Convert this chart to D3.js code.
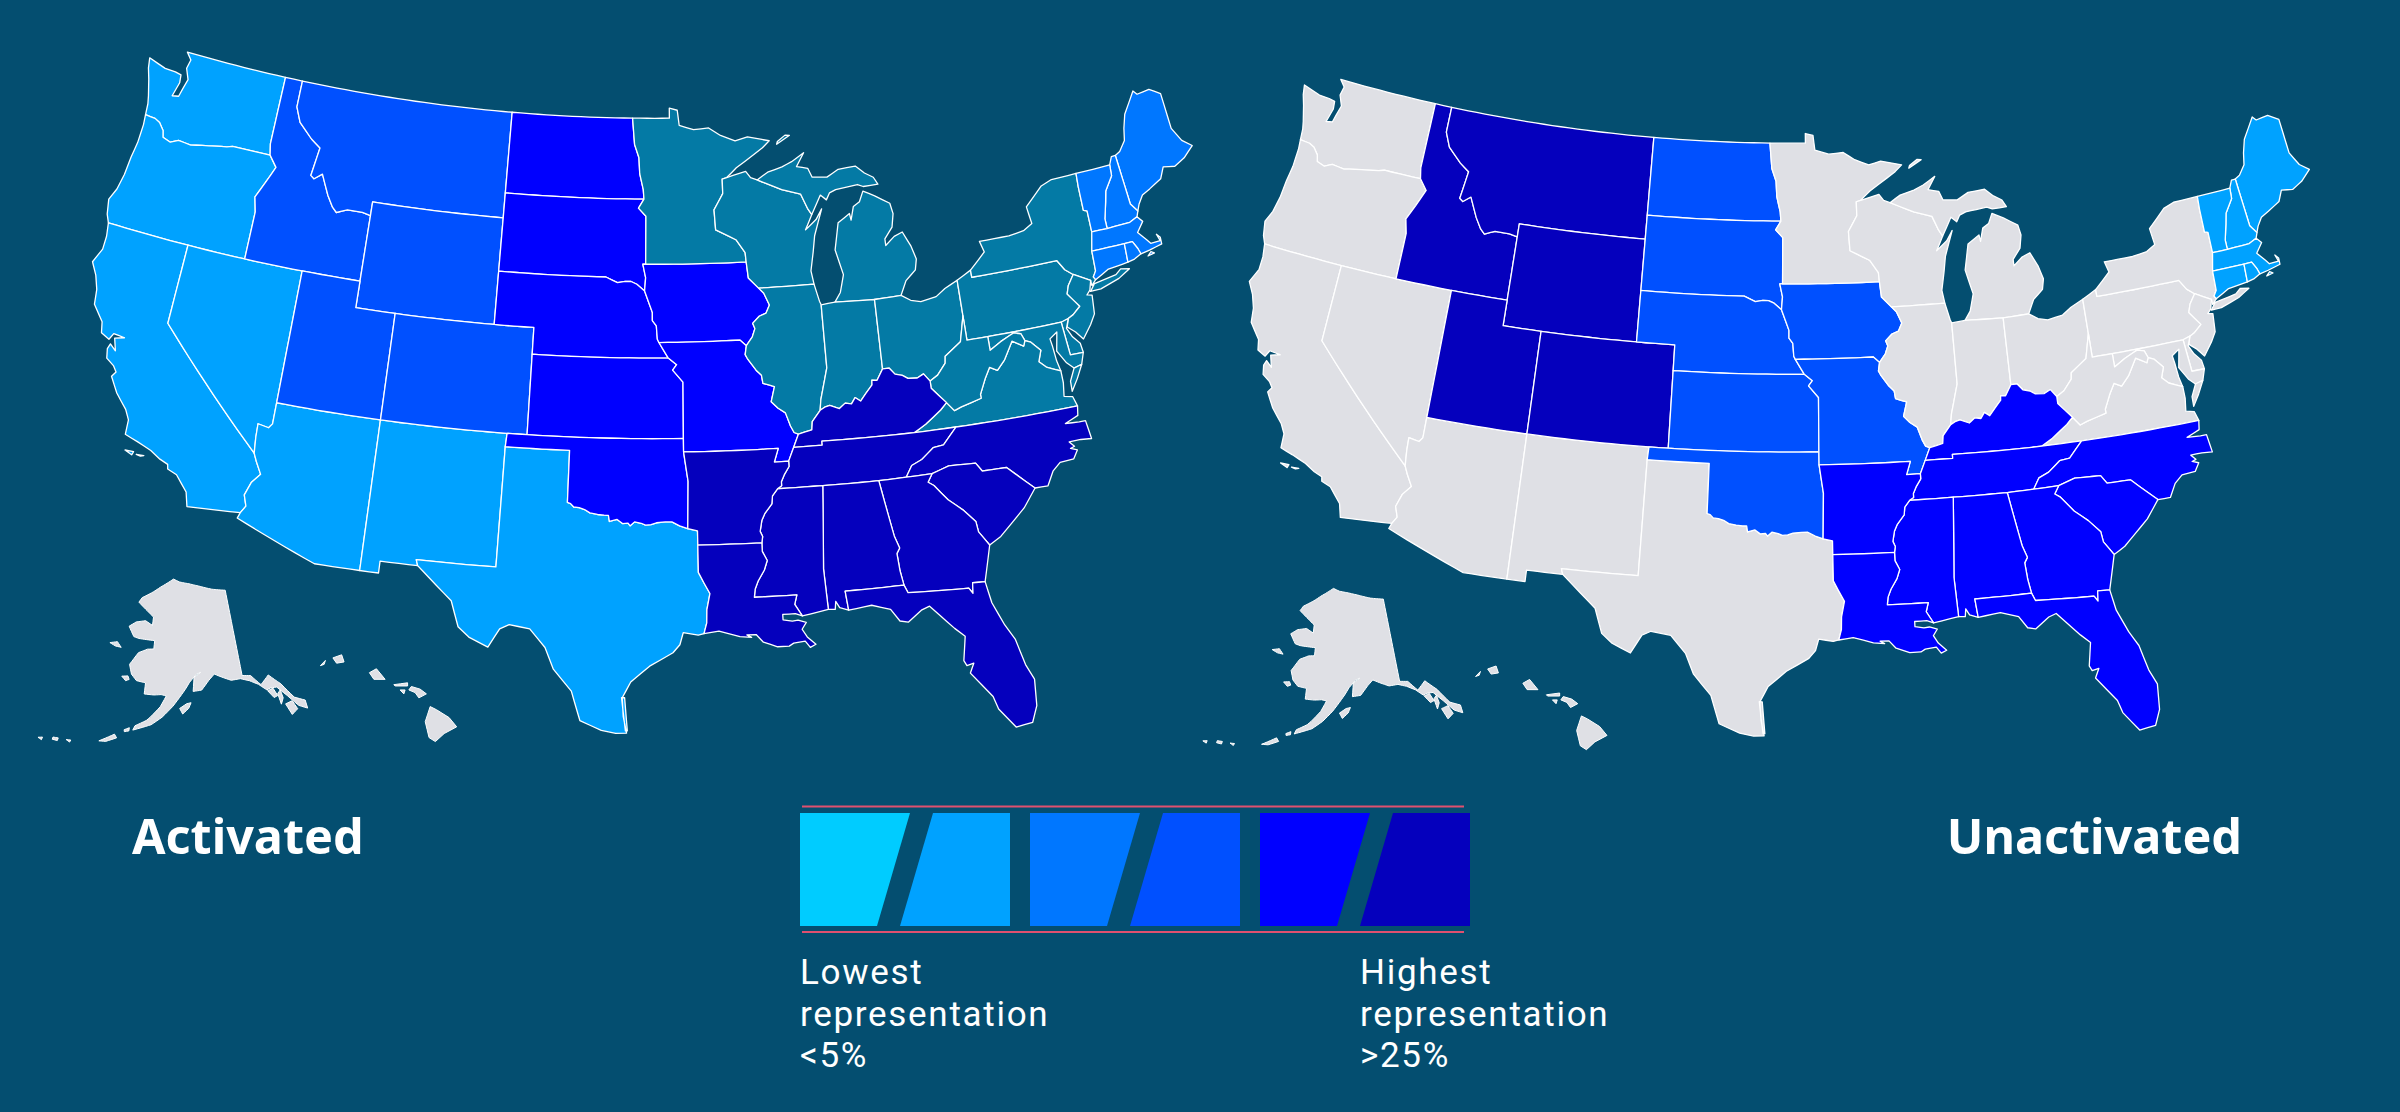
<!doctype html>
<html lang="en">
<head>
<meta charset="utf-8">
<title>Representation by state, activated and unactivated</title>
<script src="https://d3js.org/d3.v7.min.js"></script>
<style>
  html, body { margin: 0; padding: 0; background: #044e70; }
  svg { display: block; }
  text { fill: #fff; font-family: "Noto Sans", Roboto, sans-serif; }
  .title { font-size: 48.5px; font-weight: 700; }
  .note { font-family: Roboto, sans-serif; font-size: 35px; letter-spacing: 1.7px; }
</style>
</head>
<body>
<svg id="chart" width="2400" height="1112"></svg>
<script>
// shared borders, [lon, lat]
const rev = a => a.slice().reverse();

const coastWA = [[-124,46.28],[-124.05,46.7],[-124.15,47],[-124.4,47.6],[-124.6,48],[-124.7,48.38],[-123.7,48.17],[-123.1,48.15],[-122.75,48.1],[-122.7,47.8],[-122.9,47.25],[-122.55,47.3],[-122.45,47.6],[-122.3,48],[-122.55,48.4],[-122.45,48.75],[-122.76,49]];
const waOR = [[-124,46.28],[-123.45,46.25],[-123.15,46.15],[-122.85,45.9],[-122.75,45.65],[-122.3,45.55],[-121.9,45.7],[-121.2,45.65],[-120.6,45.75],[-119.9,45.85],[-119.3,45.93],[-119,46],[-116.92,46]];
const coastOR = [[-124,46.28],[-123.95,45.9],[-123.97,45.2],[-124.08,44.6],[-124.15,43.9],[-124.3,43.3],[-124.55,42.85],[-124.4,42.3],[-124.21,42]];
const snakeOR = [[-116.92,46],[-116.47,45.6],[-116.85,44.95],[-117.22,44.35],[-117.03,43.8],[-117.03,42]];
const idMT = [[-111.05,44.48],[-111.5,44.55],[-112.3,44.55],[-112.85,44.38],[-113.1,44.55],[-113.45,44.95],[-113.95,45.7],[-114.35,45.47],[-114.55,45.57],[-114.35,46.65],[-114.9,46.92],[-115.7,47.45],[-116.05,48],[-116.05,49]];
const coastCA = [[-124.21,42],[-124.1,41.5],[-124.1,41],[-124.4,40.44],[-124.05,40],[-123.8,39.5],[-123.7,38.95],[-123.1,38.4],[-122.98,38],[-122.55,37.85],[-122.4,38.1],[-121.85,38.06],[-122.3,37.95],[-122.1,37.5],[-122.42,37.7],[-122.5,37.5],[-122.4,37.15],[-122,36.95],[-121.8,36.75],[-121.95,36.55],[-121.5,36],[-120.9,35.5],[-120.65,35.15],[-120.62,34.6],[-120,34.45],[-119.3,34.25],[-118.8,34.02],[-118.4,33.9],[-118.35,33.73],[-117.9,33.6],[-117.3,33.05],[-117.12,32.53]];
const caAZ = [[-114.72,32.72],[-114.53,33],[-114.7,33.4],[-114.5,33.9],[-114.15,34.27],[-114.45,34.7],[-114.63,35]];
const nvAZ = [[-114.63,35],[-114.7,35.6],[-114.72,36.1],[-114.2,36.03],[-114.05,36.2],[-114.05,37]];
const redRiver = [[-100,34.56],[-99.85,34.52],[-99.7,34.4],[-99.45,34.38],[-99.2,34.32],[-98.95,34.2],[-98.6,34.15],[-98.3,34.13],[-98.1,34.13],[-98.05,33.9],[-97.7,33.98],[-97.45,33.83],[-97.2,33.85],[-97.1,33.75],[-96.9,33.9],[-96.6,33.85],[-96.4,33.78],[-96.15,33.8],[-95.9,33.87],[-95.5,33.9],[-95.2,33.9],[-94.85,33.75],[-94.48,33.64]];
const txLA = [[-94.04,33.02],[-94.04,32],[-93.8,31.6],[-93.55,31.2],[-93.7,30.6],[-93.72,30.1],[-93.85,29.7]];
const coastTX = [[-93.85,29.7],[-94.1,29.65],[-94.75,29.75],[-94.9,29.3],[-95.2,29],[-96.2,28.5],[-97,27.9],[-97.35,27.3],[-97.3,26.6],[-97.15,25.96]];
const rioGrande = [[-97.15,25.96],[-97.6,25.95],[-98.2,26.05],[-99.1,26.4],[-99.5,27.5],[-100.3,28.3],[-100.7,29.1],[-101.4,29.77],[-102.3,29.88],[-102.7,29.7],[-103.15,28.98],[-104,29.3],[-104.5,29.65],[-104.9,30.6],[-106,31.4],[-106.53,31.78]];
const redNorth = [[-97.23,49],[-97.1,48],[-96.85,47.5],[-96.8,46.9],[-96.6,46.3],[-96.56,45.94]];
const sdMN = [[-96.56,45.94],[-96.85,45.6],[-96.45,45.3],[-96.45,43.5]];
const sdIA = [[-96.45,43.5],[-96.6,43.5],[-96.45,43],[-96.5,42.5]];
const neSD = [[-96.5,42.5],[-96.9,42.75],[-97.2,42.85],[-97.5,42.85],[-97.9,42.8],[-98.5,43],[-104.05,43]];
const neIA = [[-96.5,42.5],[-96.3,42.1],[-96.1,41.7],[-96.1,41.4],[-95.9,41.2],[-95.85,40.7],[-95.77,40.58]];
const neMO = [[-95.77,40.58],[-95.31,40]];
const ksMO = [[-95.31,40],[-94.9,39.75],[-95.1,39.55],[-94.6,39.1],[-94.62,37]];
const mnWI = [[-91.22,43.5],[-91.25,43.85],[-91.7,44.35],[-92.75,44.75],[-92.8,45.5],[-92.3,46.1],[-92.3,46.65]];
const iaWI = [[-91.22,43.5],[-91.15,42.9],[-90.65,42.5]];
const iaIL = [[-90.65,42.5],[-90.4,42.3],[-90.15,41.85],[-90.35,41.55],[-90.7,41.45],[-91.05,41.2],[-90.95,41],[-91.1,40.7],[-91.42,40.38]];
const ilMO = [[-91.42,40.38],[-91.5,40.05],[-91.4,39.9],[-91,39.45],[-90.75,39.25],[-90.7,38.95],[-90.15,38.8],[-90.35,38.25],[-90.05,38],[-89.7,37.8],[-89.5,37.3],[-89.35,37.05],[-89.15,36.98]];
const ilKY = [[-89.15,36.98],[-88.5,37.1],[-88.45,37.4],[-88.03,37.8]];
const inKY = [[-88.03,37.8],[-87.8,37.9],[-87.55,37.95],[-87.1,37.8],[-86.8,37.98],[-86.5,37.93],[-86.3,38.15],[-86.05,38],[-85.75,38.27],[-85.42,38.55],[-85.4,38.73],[-85.15,38.7],[-84.82,39.1]];
const ohKY = [[-84.82,39.1],[-84.5,39.1],[-84.25,38.85],[-83.9,38.77],[-83.65,38.63],[-83.2,38.6],[-82.87,38.72],[-82.6,38.42]];
const ilIN = [[-88.03,37.8],[-87.95,38.2],[-87.53,39.35],[-87.53,41.71]];
const arTN = [[-89.7,36],[-89.7,35.8],[-89.95,35.5],[-90.1,35.25],[-90.1,35.1],[-90.3,35]];
const arMS = [[-90.3,35],[-90.55,34.75],[-90.6,34.45],[-90.95,34.1],[-91.1,33.85],[-91.2,33.45],[-91.1,33.25],[-91.15,33.02]];
const laMS = [[-91.15,33.02],[-91.15,32.7],[-90.95,32.35],[-91.1,32],[-91.4,31.6],[-91.55,31.3],[-91.6,31],[-89.73,31],[-89.85,30.65],[-89.55,30.2]];
const coastLA = [[-89.55,30.2],[-89.85,30.3],[-90.4,30.3],[-90.4,30.1],[-90,30.03],[-89.75,30.05],[-89.4,29.95],[-89.6,29.7],[-89.4,29.4],[-89.05,29.1],[-89.3,29],[-89.5,29.25],[-90,29.2],[-90.2,29.1],[-90.7,29.1],[-91.3,29.3],[-91.6,29.6],[-92,29.6],[-91.8,29.5],[-92.3,29.55],[-93.2,29.78],[-93.85,29.7]];
const msAL = [[-88.2,35],[-88.47,31.9],[-88.4,30.37]];
const alGA = [[-85.6,34.98],[-85.18,32.87],[-85,32.4],[-85.15,32.2],[-85.1,31.55],[-85,31]];
const coastAL = [[-88.4,30.37],[-88.1,30.35],[-88.05,30.65],[-87.9,30.4],[-87.52,30.28]];
const gaFL = [[-85,31],[-84.86,30.7],[-82.2,30.57],[-82.05,30.36],[-82,30.75],[-81.45,30.72]];
const coastFL = [[-81.45,30.72],[-81.3,29.9],[-80.9,29],[-80.55,28.4],[-80.3,27.4],[-80.03,26.8],[-80.12,25.8],[-80.4,25.2],[-81.1,25.12],[-81.7,25.9],[-81.85,26.4],[-82.25,26.9],[-82.65,27.4],[-82.45,27.75],[-82.75,27.7],[-82.85,27.9],[-82.65,28.8],[-83.05,29.15],[-83.6,29.7],[-84,30.1],[-84.35,30],[-85,29.6],[-85.35,29.68],[-85.7,30.15],[-86.5,30.38],[-87.52,30.28]];
const gaSC = [[-83.11,35],[-83.35,34.7],[-83.1,34.55],[-82.55,33.95],[-81.95,33.5],[-81.45,33],[-81.4,32.6],[-81,32.05]];
const scNC = [[-83.11,35],[-82.3,35.2],[-81.05,35.15],[-80.8,34.82],[-79.67,34.8],[-78.55,33.86]];
const coastSC = [[-78.55,33.86],[-79.2,33.2],[-79.9,32.7],[-80.45,32.3],[-81,32.05]];
const coastNC = [[-75.87,36.55],[-75.95,36.2],[-76.6,36],[-75.95,35.95],[-75.65,35.95],[-75.55,35.25],[-76.05,35.3],[-76.6,35.3],[-76.4,35.1],[-76.6,35.05],[-76.3,34.95],[-76.55,34.65],[-77.2,34.62],[-77.6,34.35],[-77.95,33.85],[-78.55,33.86]];
const tnNC = [[-84.32,34.99],[-84,35.4],[-83.5,35.57],[-82.9,35.95],[-82.4,36],[-81.7,36.59]];
const vaKY = [[-83.68,36.6],[-83.1,36.85],[-82.3,37.3],[-81.97,37.54]];
const vaWV = [[-81.97,37.54],[-81.65,37.2],[-81.3,37.3],[-80.3,37.5],[-80.3,37.65],[-79.95,38.2],[-79.65,38.58],[-79.3,38.42],[-78.87,38.76],[-78.35,39.39],[-77.83,39.13],[-77.72,39.32]];
const vaMD = [[-77.72,39.32],[-77.45,39.22],[-77.05,38.85],[-77.25,38.45],[-76.95,38.2],[-76.3,37.95]];
const coastVA = [[-76.3,37.95],[-76.3,37.5],[-76.4,37],[-76,36.92],[-75.87,36.55]];
const kyWV = [[-81.97,37.54],[-82.6,38.15],[-82.6,38.42]];
const ohWV = [[-82.6,38.42],[-82.2,38.6],[-81.75,39],[-81.7,39.25],[-80.85,39.7],[-80.52,40.64]];
const mdWV = [[-79.48,39.72],[-79.48,39.2],[-78.9,39.45],[-78.45,39.6],[-78.2,39.68],[-77.85,39.6],[-77.72,39.32]];
const coastOH = [[-83.45,41.73],[-83,41.5],[-82.5,41.4],[-81.7,41.5],[-81.2,41.75],[-80.52,41.98]];
const paNJ = [[-75.41,39.8],[-75.13,39.9],[-74.72,40.15],[-75.2,40.7],[-75.05,41],[-74.69,41.36]];
const paNY = [[-74.69,41.36],[-75.05,41.6],[-75.35,42],[-79.76,42],[-79.76,42.27]];
const nyVT = [[-73.35,45.01],[-73.4,44.5],[-73.43,43.6],[-73.25,43.55],[-73.27,42.75]];
const nyCT = [[-73.5,42.05],[-73.55,41.3],[-73.73,41.1],[-73.65,40.98]];
const vtNH = [[-71.5,45.01],[-71.55,44.6],[-72.05,44.1],[-72.2,43.7],[-72.45,43.1],[-72.46,42.73]];
const nhME = [[-71.08,45.3],[-70.98,43.4],[-70.7,43.07]];
const maNH = [[-70.82,42.87],[-71.25,42.74],[-72.46,42.73]];
const maRI = [[-71.12,41.5],[-71.2,41.72],[-71.38,42.02],[-71.8,42.02]];
const wiMI = [[-90.4,46.55],[-89.1,46.13],[-88.1,45.9],[-87.8,45.35],[-87.6,45.1]];
const ilWI = [[-90.65,42.5],[-87.8,42.5]];

// state rings built from the borders above
const WA = [[[-122.76,49],[-117.03,49],[-117.04,46.42],...rev(waOR),...coastWA]];
const OR = [[...waOR,...snakeOR,[-120,42],[-124.21,42],...rev(coastOR)]];
const ID = [[[-117.03,49],[-116.05,49],...rev(idMT),[-111.05,42],[-114.04,42],[-117.03,42],...rev(snakeOR),[-117.04,46.42]]];
const CA = [[[-124.21,42],[-120,42],[-120,39],[-114.63,35],...rev(caAZ),[-117.12,32.53],...rev(coastCA)],[[-120.45,34.03],[-120.05,34.05],[-120.1,33.92]],[[-119.55,34],[-119.9,33.98],[-119.7,33.95]]];
const NV = [[[-120,42],[-117.03,42],[-114.04,42],...rev(nvAZ),[-120,39]]];
const UT = [[[-114.04,42],[-111.05,42],[-111.05,41],[-109.05,41],[-109.05,37],[-114.05,37]]];
const AZ = [[[-114.05,37],[-109.05,37],[-109.05,31.33],[-111.07,31.33],[-114.81,32.5],...caAZ,...nvAZ]];
const NM = [[[-109.05,37],[-103,37],[-103.04,36.5],[-103.06,32],[-106.62,32],[-106.53,31.78],[-108.21,31.78],[-108.21,31.33],[-109.05,31.33]]];
const CO = [[[-109.05,41],[-102.05,41],[-102.05,40],[-102.05,37],[-103,37],[-109.05,37]]];
const WY = [[[-111.05,45],[-104.05,45],[-104.05,43],[-104.05,41],[-109.05,41],[-111.05,41],[-111.05,42],[-111.05,44.48]]];
const MT = [[[-116.05,49],[-104.05,49],[-104.05,45.94],[-104.05,45],[-111.05,45],...idMT]];
const ND = [[[-104.05,49],...redNorth,[-104.05,45.94]]];
const SD = [[[-104.05,45.94],...sdMN,...sdIA,...neSD,[-104.05,45]]];
const NE = [[[-102.05,40],[-95.31,40],...rev(neMO),...rev(neIA),...neSD,[-104.05,41],[-102.05,41]]];
const KS = [[[-102.05,37],[-94.62,37],...rev(ksMO),[-102.05,40]]];
const OK = [[[-103,37],[-102.05,37],[-94.62,37],[-94.62,36.5],[-94.43,35.4],...rev(redRiver),[-100,36.5],[-103.04,36.5]]];
const TX = [[[-103.04,36.5],[-100,36.5],...redRiver,[-94.04,33.55],...txLA,...coastTX,...rioGrande,[-106.62,32],[-103.06,32]],[[-97.38,27.3],[-97.25,27.3],[-97.12,26.05],[-97.2,26.05]]];
const MN = [[[-97.23,49],[-95.15,49],[-95.15,49.38],[-94.7,49.3],[-94.6,48.72],[-93.8,48.55],[-92.95,48.6],[-92.3,48.3],[-91.5,48.07],[-90.8,48.2],[-89.6,48],[-90,47.75],[-91.5,47.05],[-92.05,46.7],[-92.3,46.65],...rev(mnWI),...rev(sdMN),...rev(redNorth)]];
const IA = [[[-96.45,43.5],[-91.22,43.5],...iaWI,...iaIL,[-91.73,40.6],...rev(neIA),...rev(sdIA)]];
const MO = [[[-95.77,40.58],[-91.73,40.6],...ilMO,[-89.42,36.5],[-89.7,36],[-90.37,36],[-90.15,36.5],[-94.62,36.5],...rev(ksMO),...rev(neMO)]];
const AR = [[[-94.62,36.5],[-90.15,36.5],[-90.37,36],...arTN,...arMS,[-94.04,33.02],[-94.04,33.55],[-94.48,33.64],[-94.43,35.4]]];
const LA = [[[-94.04,33.02],...laMS,...coastLA,...rev(txLA)]];
const WI = [[[-92.3,46.65],[-92.05,46.7],[-91,46.9],[-90.75,46.65],...wiMI,[-88,44.55],[-87.4,44.9],[-87.05,45.28],[-87.3,44.8],[-87.55,44.3],[-87.7,43.7],[-87.9,43],...rev(ilWI),...rev(iaWI),...mnWI]];
const MI = [[[-90.4,46.55],[-89.8,46.82],[-89,46.98],[-88.45,47.15],[-87.75,47.45],[-88.2,46.95],[-87.6,46.85],[-87.4,46.5],[-86.6,46.45],[-85.95,46.7],[-85,46.75],[-84.55,46.45],[-84.1,46.25],[-83.9,45.97],[-84.7,45.95],[-85,46.05],[-85.6,46],[-86.2,45.95],[-86.55,45.85],[-86.75,45.6],[-87.05,45.8],...rev(wiMI)],
  [[-86.82,41.76],[-86.5,42.1],[-86.25,42.75],[-86.55,43.7],[-86.25,44.7],[-85.6,45],[-85.55,44.75],[-85.35,45.25],[-85,45.4],[-84.75,45.78],[-84.15,45.55],[-83.4,45.2],[-83.3,44.8],[-83.45,44.3],[-83.9,43.9],[-83.9,43.65],[-83.4,43.95],[-82.95,44.07],[-82.6,43.5],[-82.42,43],[-82.55,42.6],[-83.1,42.25],[-83.45,41.73],[-84.81,41.7]],
  [[-89.2,47.85],[-88.45,48.15],[-88.7,48.17],[-89.15,47.95]]];
const IL = [[[-90.65,42.5],...ilWI,[-87.6,41.85],...rev(ilIN),...rev(ilKY),...rev(ilMO),...rev(iaIL)]];
const IN = [[[-87.53,41.71],[-86.82,41.76],[-84.81,41.7],...rev(inKY),...ilIN]];
const OH = [[[-84.81,41.7],...coastOH,[-80.52,40.64],...rev(ohWV),...rev(ohKY)]];
const KY = [[[-89.42,36.5],...ilKY,...inKY,...ohKY,...rev(kyWV),...rev(vaKY),[-88.07,36.65],[-88.07,36.5]]];
const TN = [[[-89.42,36.5],[-88.07,36.5],[-88.07,36.65],[-83.68,36.6],[-81.7,36.59],...rev(tnNC),[-85.6,34.98],[-88.2,35],...rev(arTN)]];
const MS = [[[-90.3,35],...msAL,[-89.55,30.2],...rev(laMS),...rev(arMS)]];
const AL = [[[-88.2,35],[-85.6,34.98],...alGA,[-87.6,31],...rev(coastAL),...rev(msAL)]];
const GA = [[[-85.6,34.98],[-84.32,34.99],...gaSC,[-81.45,30.72],...rev(gaFL),...rev(alGA)]];
const FL = [[[-87.6,31],...gaFL,...coastFL]];
const SC = [[...scNC,...coastSC,...rev(gaSC)]];
const NC = [[[-81.7,36.59],...coastNC,...rev(scNC),[-84.32,34.99],...tnNC]];
const VA = [[...vaKY,...vaWV,...vaMD,...coastVA,[-81.7,36.59]],[[-75.97,37.12],[-75.95,37.5],[-75.65,37.95],[-75.25,38.03],[-75.6,37.55]]];
const WV = [[...vaWV,...rev(mdWV),[-80.52,39.72],...rev(ohWV),...rev(kyWV)]];
const MD = [[[-79.48,39.72],[-75.79,39.72],[-75.69,38.46],[-75.05,38.45],[-75.25,38.03],[-75.65,37.95],[-75.95,38.2],[-76.3,38.7],[-76.1,39.4],[-76.5,39.2],[-76.45,38.9],[-76.4,38.35],...rev(vaMD),...rev(mdWV)]];
const DE = [[[-75.79,39.72],[-75.69,38.46],[-75.05,38.45],[-75.1,38.8],[-75.4,39.1],[-75.6,39.45],[-75.41,39.8]]];
const PA = [[[-80.52,39.72],[-75.79,39.72],...paNJ,...paNY,[-80.52,41.98]]];
const NJ = [[[-73.9,41],[-74.69,41.36],...rev(paNJ),[-75.55,39.5],[-75.2,39.25],[-74.9,38.93],[-74.4,39.4],[-74.1,39.75],[-74,40.45],[-74.25,40.5],[-74.05,40.65]]];
const NY = [[[-79.76,42.27],[-78.9,42.85],[-79.05,43.27],[-77.5,43.27],[-76.7,43.35],[-76.2,43.55],[-76.3,44.2],[-75.3,44.85],[-74.7,45],...nyVT,[-73.5,42.05],...nyCT,[-73.9,40.8],[-73.9,41],...paNY],[[-74.03,40.6],[-73.75,40.85],[-72.6,40.98],[-72.3,41.15],[-71.87,41.07],[-72.5,40.82],[-73.5,40.6]]];
const VT = [[[-73.35,45.01],...vtNH,[-73.27,42.75],...rev(nyVT)]];
const NH = [[[-71.5,45.01],[-71.3,45.3],...nhME,...maNH,...rev(vtNH)]];
const ME = [[[-71.08,45.3],[-70.8,45.4],[-70.4,45.75],[-70.25,46.2],[-70,46.7],[-69.22,47.46],[-69.05,47.3],[-68.35,47.35],[-67.8,47.07],[-67.8,45.7],[-67.45,45.15],[-67,44.85],[-67.6,44.5],[-68.2,44.3],[-68.8,44.4],[-69.1,44],[-69.8,43.75],[-70.25,43.6],[-70.55,43.3],[-70.7,43.07],...rev(nhME)]];
const MA = [[[-73.5,42.05],[-73.27,42.75],...rev(maNH),[-70.6,42.65],[-71,42.3],[-70.65,41.95],[-70.5,41.78],[-70,41.78],[-70.1,42.05],[-69.95,41.9],[-69.97,41.65],[-70.65,41.55],...maRI],[[-70.8,41.35],[-70.45,41.4],[-70.6,41.48]]];
const RI = [[...rev(maRI),[-71.5,41.37],[-71.86,41.32]]];
const CT = [[[-73.5,42.05],[-71.8,42.02],[-71.86,41.32],[-72.9,41.25],[-73.65,40.98],...rev(nyCT)]];

const AK = [[[-141,69.65],[-141,60.3],[-139.2,60.1],[-137.5,58.9],[-135.5,59.7],[-133.5,58.4],[-131.8,56.6],[-130,55.9],[-130.1,55],[-131.5,55.6],[-133,57],[-134.5,58.2],[-135.8,58.3],[-136.6,58.2],[-138,59],[-139.7,59.6],[-141.5,60],[-143.5,60],[-145.5,60.5],[-147,60.9],[-148.3,60.3],[-150,59.3],[-151.8,59.2],[-151.5,60.7],[-150,61.2],[-151,61],[-152.5,60.2],[-153.5,59.4],[-154.2,58.9],[-156,57.6],[-158,56.4],[-160,55.5],[-162.5,54.9],[-163.3,54.7],[-163,55.2],[-161,55.9],[-160.3,56.3],[-158.5,57.5],[-157.4,58.7],[-158.5,58.8],[-160,58.7],[-162,58.7],[-162,59.9],[-164,60],[-165.3,60.6],[-166.1,61.6],[-165,62.6],[-164.5,63],[-162.5,63.5],[-161,63.6],[-161,64.5],[-163,64.5],[-165,64.5],[-166.3,64.6],[-168,65.6],[-166.4,66.2],[-164,66.5],[-162,66.1],[-162,67],[-164,67.6],[-166.7,68.35],[-166,68.9],[-163,69.7],[-161,70.3],[-157,71.3],[-155,71],[-152,70.8],[-149,70.5],[-145,70]],
  [[-154.6,57.4],[-153.2,57.9],[-152.3,58],[-152.8,57.4],[-154,56.8]],
  [[-171.7,63.4],[-170,63.7],[-168.8,63.2],[-170.2,63.2]],
  [[-167.3,60.2],[-166,60.35],[-165.6,60],[-166.3,59.8]],
  [[-136.5,58.1],[-135.3,58.2],[-134.8,57.3],[-135.6,57.2]],
  [[-134,57.8],[-133.9,56.9],[-134.6,56.3],[-134.7,57.5]],
  [[-133.8,56.2],[-132.4,56.3],[-131.9,55.3],[-133.2,54.9]],
  [[-169,52.9],[-166.5,53.95],[-166,53.6],[-167.8,53]],
  [[-164.9,54.6],[-164,54.9],[-164,54.55],[-164.8,54.4]],
  [[-176.9,51.9],[-176,52],[-176,51.7],[-176.9,51.65]],
  [[-174.6,52.1],[-173.8,52.2],[-173.9,51.95]],
  [[-179.3,51.3],[-178.6,51.5],[-178.6,51.2]]];
const HI = [[[-155.85,20.27],[-155.6,20.15],[-155.1,19.85],[-154.8,19.5],[-155.3,19.25],[-155.65,18.95],[-155.9,19.1],[-156.05,19.7]],
  [[-156.7,20.9],[-156.6,21.03],[-156.25,20.93],[-156,20.75],[-156.3,20.6],[-156.45,20.8]],
  [[-157.3,21.1],[-156.75,21.17],[-156.75,21.05],[-157.25,21.05]],
  [[-157.05,20.9],[-156.85,20.9],[-156.9,20.75]],
  [[-158.28,21.55],[-158,21.7],[-157.65,21.3],[-158.1,21.3]],
  [[-159.75,22.1],[-159.4,22.22],[-159.3,21.95],[-159.6,21.9]],
  [[-160.25,21.8],[-160.05,22],[-160.1,21.85]]];

// groups of states and the colour each group takes on the two maps
const stateRings = {WA,OR,ID,CA,NV,UT,AZ,NM,CO,WY,MT,ND,SD,NE,KS,OK,TX,MN,IA,MO,AR,LA,WI,MI,IL,IN,OH,KY,TN,MS,AL,GA,FL,SC,NC,VA,WV,MD,DE,PA,NJ,NY,VT,NH,ME,MA,RI,CT};
const groupNames = ["west","rockies","plains","midwest","newEngland","south"];
const groupStates = [
  ["WA","OR","CA","NV","AZ","NM","TX"],
  ["ID","MT","WY","UT","CO"],
  ["ND","SD","NE","KS","OK","IA","MO"],
  ["MN","WI","MI","IL","IN","OH","PA","NY","NJ","DE","MD","VA","WV"],
  ["ME","NH","VT","MA","CT","RI"],
  ["KY","TN","NC","SC","GA","AL","MS","AR","LA","FL"]
];
const activatedColors = ["#00a2ff","#0050ff","#0000ff","#047aa5","#0077ff","#0500bd"];
const unactivatedColors = ["#dfe0e5","#0500bd","#0050ff","#dfe0e5","#00a2ff","#0000ff"];
const outerColor = "#dfe0e5";

const legendColors = ["#00ccff","#00a2ff","#0077ff","#0050ff","#0000ff","#0500bd"];
const lowLabel = ["Lowest","representation","<5%"];
const highLabel = ["Highest","representation",">25%"];

const svg = d3.select("#chart");

// every state border runs along lon/lat, so cut long edges before projecting
function densify(ring) {
  const out = [];
  const pts = ring.concat([ring[0]]);
  for (let i = 0; i < pts.length - 1; i++) {
    const [a, b] = [pts[i], pts[i + 1]];
    const n = Math.ceil(Math.max(Math.abs(b[0] - a[0]), Math.abs(b[1] - a[1])) / 0.5) || 1;
    for (let j = 0; j < n; j++) out.push([a[0] + (b[0] - a[0]) * j / n, a[1] + (b[1] - a[1]) * j / n]);
  }
  out.push(out[0]);
  return out;
}

function toFeature(rings) {
  const polys = rings.map(r => {
    let ring = densify(r);
    if (d3.geoArea({type: "Polygon", coordinates: [ring]}) > 2 * Math.PI) ring = ring.reverse();
    return [ring];
  });
  return {type: "MultiPolygon", coordinates: polys};
}

function drawMap(cfg) {
  const g = svg.append("g");
  const main = d3.geoAlbers().scale(cfg.k).translate(cfg.main);
  const alaska = d3.geoConicEqualArea().rotate([154, 0]).center([-2, 58.5]).parallels([55, 65]).scale(0.35 * cfg.k).translate(cfg.alaska);
  const hawaii = d3.geoConicEqualArea().rotate([157, 0]).center([-3, 19.9]).parallels([8, 18]).scale(cfg.k).translate(cfg.hawaii);

  const path = d3.geoPath(main);
  groupStates.forEach((list, i) => {
    g.append("g").attr("class", groupNames[i]).selectAll("path")
      .data(list)
      .enter().append("path")
      .attr("d", d => path(toFeature(stateRings[d])))
      .attr("fill", cfg.colors[i])
      .attr("stroke", "#fff")
      .attr("stroke-width", 1.3)
      .attr("stroke-linejoin", "round");
  });
  g.append("path").attr("d", d3.geoPath(alaska)(toFeature(AK))).attr("fill", outerColor).attr("stroke", "#fff").attr("stroke-width", 1);
  g.append("path").attr("d", d3.geoPath(hawaii)(toFeature(HI))).attr("fill", outerColor).attr("stroke", "#fff").attr("stroke-width", 1);
}

drawMap({k: 1525, main: [642, 393], alaska: [173, 698], hawaii: [326, 716], colors: activatedColors});
drawMap({k: 1470, main: [1779, 408], alaska: [1333, 703], hawaii: [1481, 725], colors: unactivatedColors});

svg.append("text").attr("class", "title").attr("x", 132).attr("y", 854).text("Activated");
svg.append("text").attr("class", "title").attr("x", 2242).attr("y", 854).attr("text-anchor", "end").text("Unactivated");

// legend
const lx = d3.scaleBand().domain(d3.range(3)).range([800, 1490]);
const yTop = 813, yBottom = 926;
legendColors.forEach((c, i) => {
  const x0 = lx(Math.floor(i / 2));
  const pts = i % 2 === 0
    ? [[x0, yTop], [x0 + 110, yTop], [x0 + 77, yBottom], [x0, yBottom]]
    : [[x0 + 133, yTop], [x0 + 210, yTop], [x0 + 210, yBottom], [x0 + 100, yBottom]];
  svg.append("polygon").attr("points", pts.join(" ")).attr("fill", c);
});
[806.5, 932].forEach(y => {
  svg.append("line").attr("x1", 802).attr("x2", 1464).attr("y1", y).attr("y2", y).attr("stroke", "#e0506f").attr("stroke-width", 2);
});
[[800, lowLabel], [1360, highLabel]].forEach(([x, lines]) => {
  const t = svg.append("text").attr("class", "note").attr("x", x).attr("y", 984);
  lines.forEach((s, i) => {
    t.append("tspan").attr("x", x).attr("dy", i ? 41.5 : 0).text(s);
  });
});
</script>
</body>
</html>
